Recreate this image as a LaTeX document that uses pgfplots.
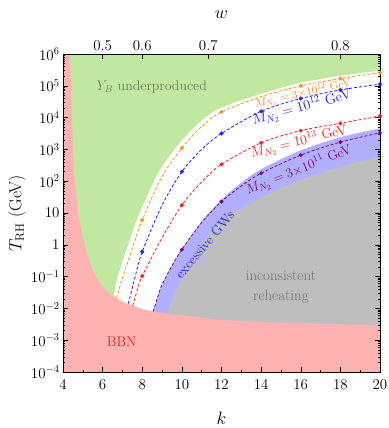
\RequirePackage{fix-cm}
\documentclass[border=0pt]{standalone}
\usepackage{fontspec}
\usepackage{pgfplots}
\pgfplotsset{compat=1.18}

\definecolor{cgreen}{RGB}{192,232,160}
\definecolor{cpink}{RGB}{255,178,178}
\definecolor{cblueb}{RGB}{176,176,255}
\definecolor{cgray}{RGB}{190,190,190}
\definecolor{corange}{RGB}{255,140,30}
\definecolor{cblue}{RGB}{30,30,255}
\definecolor{cred}{RGB}{255,30,30}
\definecolor{cpurple}{RGB}{128,0,128}
\definecolor{tgreen}{RGB}{110,125,95}
\definecolor{tred}{RGB}{200,40,40}
\definecolor{tgray}{RGB}{110,110,110}

\begin{document}
\begin{tikzpicture}
\begin{axis}[name=main, width=317bp, height=318bp, scale only axis,
  xmin=4, xmax=20, ymin=1e-4, ymax=1e6, ymode=log,
  axis on top, tick align=inside,
  xtick pos=bottom, ytick pos=both,
  xtick={4,6,...,20}, minor x tick num=1,
  ytick={1e-4,1e-3,1e-2,1e-1,1,10,100,1e3,1e4,1e5,1e6},
  yticklabels={$10^{-4}$,$10^{-3}$,$10^{-2}$,$10^{-1}$,$1$,$10$,$10^{2}$,$10^{3}$,$10^{4}$,$10^{5}$,$10^{6}$},
  major tick length=5bp, minor tick length=2.5bp,
  tick style={black, line width=0.5bp},
  axis line style={line width=0.6bp},
  tick label style={font=\fontsize{15}{18}\selectfont},
  xticklabel shift=4bp,
  xlabel={$k$}, ylabel={$T_{\mathrm{RH}}$ (GeV)},
  label style={font=\fontsize{18}{21}\selectfont},
  xlabel style={at={(axis description cs:0.5,-0.145)}, anchor=center},
  ylabel style={at={(axis description cs:-0.145,0.5)}, anchor=center, font=\fontsize{17.5}{20}\selectfont},
]
% background: Y_B underproduced
\addplot[draw=none, fill=cgreen] coordinates {(4,1e-4) (20,1e-4) (20,1e6) (4,1e6)} -- cycle;

% white region below green boundary
\addplot[draw=none, fill=white, smooth] coordinates {
 (6.55,0.02291) (6.76,0.1) (7.23,0.7762) (7.76,6.761) (8.78,169.8) (9.80,1349)
 (10.82,6457) (11.88,19055) (13.92,53703) (15.96,123027) (17.98,204174) (20,301995)}
 -- (axis cs:20,1e-4) -- (axis cs:6.55,1e-4) -- cycle;

% excessive GWs band
\addplot[draw=none, fill=cblueb, smooth] coordinates {
 (8.45,0.005012) (8.55,0.007943) (8.8,0.02512) (9,0.05623) (9.5,0.2239) (10,0.7413)
 (11,5.495) (12,26.30) (13,89.13) (14,239.9) (16,933.3) (18,2399) (20,4571)}
 -- (axis cs:20,1e-4) -- (axis cs:8.45,1e-4) -- cycle;

% inconsistent reheating
\addplot[draw=none, fill=cgray, smooth] coordinates {
 (9.1,0.003162) (9.24,0.006310) (9.5,0.01820) (9.9,0.06310) (10.33,0.2042)
 (11.4,2.291) (12.3,7.586) (14.1,32.36) (16,109.6) (18,288.4) (20,588.8)}
 -- (axis cs:20,1e-4) -- (axis cs:9.1,1e-4) -- cycle;

% BBN
\addplot[draw=none, fill=cpink] coordinates {
 (4,1e-4) (4,1e6) (4.35,1e6) (4.4,1e5) (4.45,1e4) (4.5,1e3) (4.6,100) (4.75,10)
 (4.9,3.162) (5.1,1) (5.25,0.4467) (5.45,0.1995) (5.65,0.1047) (5.87,0.0631)
 (6.1,0.04169) (6.3,0.03162) (6.7,0.02089) (7.1,0.01514) (7.55,0.01202)
 (8.0,0.00955) (8.56,0.007943) (9.5,0.00646) (10.6,0.005495) (12,0.004266)
 (14,0.003802) (17.3,0.003236) (20,0.002884) (20,1e-4)} -- cycle;

% lines
\addplot[corange, line width=0.8bp, dash pattern=on 3bp off 2bp, smooth] coordinates {
 (6.7,0.02089) (7.0,0.08913) (7.47,0.6918) (8,6.026) (9,141.3) (10,1096)
 (11,5248) (12,15136) (14,45709) (16,100000) (18,169824) (20,263027)};
\addplot[only marks, mark=*, mark size=1.8bp, corange] coordinates {
 (8,6.026) (10,1096) (12,15136) (16,100000) (18,169824) (20,263027)};

\addplot[cblue, line width=0.8bp, dash pattern=on 3bp off 2bp, smooth] coordinates {
 (7.3,0.01413) (7.6,0.07943) (8,0.6026) (9,17.78) (10,199.5) (11,1000)
 (12,3162) (14,15849) (16,39811) (18,74131) (20,112202)};
\addplot[only marks, mark=*, mark size=1.8bp, cblue] coordinates {
 (8,0.6026) (10,199.5) (12,3162) (14,15849) (16,39811) (18,74131) (20,112202)};

\addplot[cred, line width=0.8bp, dash pattern=on 3bp off 2bp, smooth] coordinates {
 (7.52,0.01202) (7.75,0.03802) (8,0.1047) (9,1.660) (10,17.78) (11,95.50)
 (12,338.8) (14,1622) (16,3890) (18,6607) (20,11220)};
\addplot[only marks, mark=*, mark size=1.8bp, cred] coordinates {
 (8,0.1047) (10,17.78) (12,338.8) (14,1622) (16,3890) (18,6607) (20,11220)};

\addplot[cpurple, line width=0.8bp, dash pattern=on 3bp off 2bp, smooth] coordinates {
 (8.55,0.007943) (8.8,0.02512) (9,0.05623) (9.5,0.2188) (10,0.7079) (11,5.012)
 (12,22.91) (13,70.79) (14,177.8) (16,660.7) (18,1698) (20,3311)};
\addplot[only marks, mark=*, mark size=1.8bp, cpurple] coordinates {
 (10,0.7079) (12,22.91) (14,177.8) (16,660.7) (18,1698) (20,3311)};

% labels
\node[font=\fontsize{14}{16}\selectfont, text=tgreen] at (axis cs:8.48,9.33e4) {$Y_B$ underproduced};
\node[font=\fontsize{14}{16}\selectfont, text=tred] at (axis cs:6.96,8.9e-4) {BBN};
\node[font=\fontsize{15}{20}\selectfont, text=tgray, align=center] at (axis cs:15,0.0468) {inconsistent\\reheating};
\node[font=\fontsize{13.5}{16}\selectfont, text=cblue, rotate=50] at (axis cs:11.15,1.0) {excessive GWs};
\node[font=\fontsize{11.5}{13}\selectfont, text=corange, rotate=12.5] at (axis cs:16.1,5.75e4) {$M_{N_2}=3{\times}10^{12}$~GeV};
\node[font=\fontsize{14.5}{16}\selectfont, text=cblue, rotate=15] at (axis cs:16.05,2.09e4) {$M_{N_2} = 10^{12}$~GeV};
\node[font=\fontsize{14}{16}\selectfont, text=cred, rotate=14] at (axis cs:15.9,1738) {$M_{N_2} = 10^{13}$~GeV};
\node[font=\fontsize{13.5}{16}\selectfont, text=cpurple, rotate=22] at (axis cs:15.9,224) {$M_{N_2} = 3{\times}10^{11}$~GeV};
\end{axis}

\begin{axis}[width=317bp, height=318bp, scale only axis,
  xmin=4, xmax=20, ymin=0, ymax=1,
  axis x line*=top, axis y line=none,
  tick align=inside,
  xtick={6,8,11.3333,18}, xticklabels={$0.5$,$0.6$,$0.7$,$0.8$},
  minor xtick={},
  major tick length=5bp,
  tick style={black, line width=0.5bp},
  axis line style={line width=0.6bp},
  tick label style={font=\fontsize{15}{18}\selectfont},
  xlabel={$w$},
  label style={font=\fontsize{18}{21}\selectfont},
  xlabel style={at={(axis description cs:0.5,1.1226)}, anchor=center},
]
\addplot[draw=none] coordinates {(4,0) (20,1)};
\end{axis}

\pgfresetboundingbox
\path ([shift={(-63bp,-56bp)}]main.south west) rectangle ([shift={(9bp,54bp)}]main.north east);
\end{tikzpicture}
\end{document}
